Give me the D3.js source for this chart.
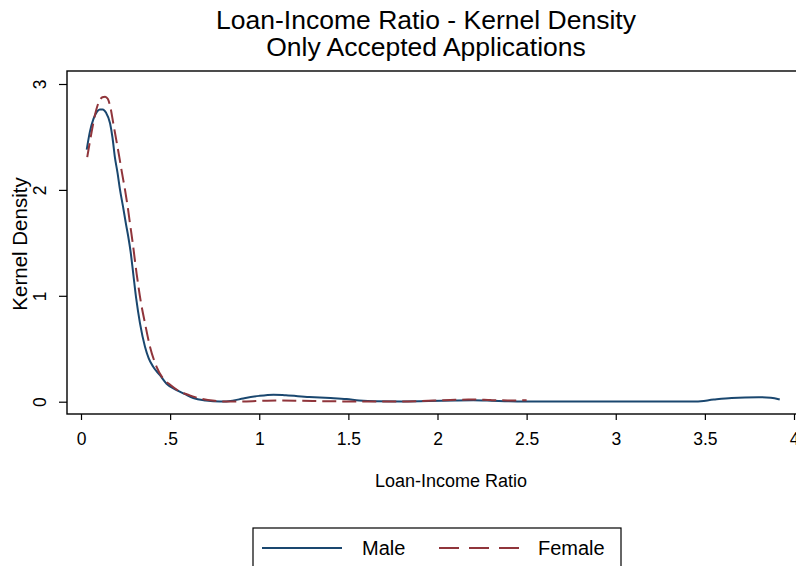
<!DOCTYPE html>
<html>
<head>
<meta charset="utf-8">
<script src="https://cdn.jsdelivr.net/npm/d3@7"></script>
<style>
  html, body { margin: 0; padding: 0; background: #fff; }
  svg { display: block; }
  text { font-family: "Liberation Sans", Arial, Helvetica, sans-serif; fill: #000; }
</style>
</head>
<body>
<svg id="chart" width="796" height="566"></svg>
<script>
// ---- Data ----
const titleLines = ["Loan-Income Ratio - Kernel Density", "Only Accepted Applications"];
const xTitle = "Loan-Income Ratio";
const yTitle = "Kernel Density";
const xTickValues = [0, 0.5, 1, 1.5, 2, 2.5, 3, 3.5, 4];
const xTickLabels = ["0", ".5", "1", "1.5", "2", "2.5", "3", "3.5", "4"];
const yTickValues = [0, 1, 2, 3];
const yTickLabels = ["0", "1", "2", "3"];
const seriesNames = ["Male", "Female"];

const maleX = [0.032,0.05,0.07,0.09,0.105,0.122,0.14,0.163,0.177,0.19,0.205,0.219,0.236,0.252,0.265,0.278,0.293,0.31,0.331,0.359,0.38,0.405,0.443,0.48,0.536,0.58,0.63,0.7,0.78,0.85,0.91,1.0,1.08,1.15,1.28,1.4,1.49,1.56,1.65,1.8,1.95,2.1,2.2,2.3,2.4,2.5,3.0,3.45,3.55,3.65,3.8,3.87,3.92];
const maleY = [2.38,2.55,2.67,2.74,2.76,2.76,2.73,2.63,2.49,2.31,2.16,2.0,1.84,1.68,1.56,1.42,1.21,0.97,0.74,0.52,0.41,0.33,0.25,0.17,0.11,0.075,0.035,0.012,0.002,0.01,0.03,0.055,0.066,0.06,0.045,0.035,0.025,0.012,0.004,0.003,0.006,0.012,0.014,0.01,0.004,0.002,0.001,0.002,0.02,0.035,0.043,0.038,0.02];

const femaleX = [0.035,0.06,0.08,0.10,0.12,0.135,0.15,0.165,0.181,0.198,0.215,0.23,0.247,0.262,0.275,0.29,0.312,0.335,0.359,0.387,0.424,0.46,0.5,0.55,0.61,0.68,0.75,0.82,0.9,1.0,1.1,1.2,1.3,1.4,1.5,1.6,1.7,1.8,1.9,2.0,2.1,2.2,2.3,2.4,2.5];
const femaleY = [2.31,2.55,2.72,2.83,2.875,2.88,2.86,2.78,2.63,2.47,2.31,2.16,2.0,1.84,1.68,1.50,1.21,0.95,0.74,0.52,0.33,0.22,0.16,0.10,0.06,0.025,0.008,0.002,0.002,0.008,0.012,0.01,0.007,0.004,0.002,0.001,0.001,0.002,0.006,0.012,0.018,0.02,0.015,0.012,0.014];

// ---- Layout ----
const svg = d3.select("#chart");
const frame = {left: 67, top: 71, right: 840, bottom: 414};
const x = d3.scaleLinear().domain([0, 4]).range([81, 794]);
const y = d3.scaleLinear().domain([0, 3]).range([401.7, 84]);
const colors = {Male: "#1a476f", Female: "#90353b"};
const dashes = {Male: null, Female: "14,6"};
const tickFont = 17.5, xTitleFont = 18, yTitleFont = 20.5, legendFont = 20, titleFont = 26.5;

// plot region frame
svg.append("rect")
  .attr("x", frame.left).attr("y", frame.top)
  .attr("width", frame.right - frame.left).attr("height", frame.bottom - frame.top)
  .attr("fill", "none").attr("stroke", "#000").attr("stroke-width", 1.4);

// x axis ticks
const xAxis = d3.axisBottom(x).tickValues(xTickValues)
  .tickFormat((d, i) => xTickLabels[i]).tickSize(6).tickSizeOuter(0);
const gx = svg.append("g").attr("transform", `translate(0,${frame.bottom})`).call(xAxis);
gx.select(".domain").remove();
gx.selectAll(".tick line").attr("stroke", "#000").attr("stroke-width", 1.2);
gx.selectAll(".tick text").attr("font-size", tickFont).attr("dy", null).attr("y", 31)
  .style("font-family", "Liberation Sans, Arial, sans-serif");

// y axis ticks (rotated labels)
const yAxis = d3.axisLeft(y).tickValues(yTickValues)
  .tickFormat((d, i) => yTickLabels[i]).tickSize(8).tickSizeOuter(0);
const gy = svg.append("g").attr("transform", `translate(${frame.left},0)`).call(yAxis);
gy.select(".domain").remove();
gy.selectAll(".tick line").attr("stroke", "#000").attr("stroke-width", 1.2);
gy.selectAll(".tick text").attr("font-size", tickFont)
  .attr("x", null).attr("dy", null)
  .attr("text-anchor", "middle")
  .attr("transform", "translate(-21,0) rotate(-90)")
  .style("font-family", "Liberation Sans, Arial, sans-serif");

// lines
const line = d3.line().x(d => x(d[0])).y(d => y(d[1])).curve(d3.curveMonotoneX);
const series = [
  {name: "Male", pts: maleX.map((v, i) => [v, maleY[i]])},
  {name: "Female", pts: femaleX.map((v, i) => [v, femaleY[i]])}
];
series.forEach(s => {
  svg.append("path").datum(s.pts)
    .attr("d", line)
    .attr("fill", "none")
    .attr("stroke", colors[s.name])
    .attr("stroke-width", 2)
    .attr("stroke-dasharray", dashes[s.name]);
});

// titles
svg.append("text").attr("x", 426).attr("y", 28.5).attr("text-anchor", "middle")
  .attr("font-size", titleFont).text(titleLines[0]);
svg.append("text").attr("x", 426).attr("y", 56).attr("text-anchor", "middle")
  .attr("font-size", titleFont).text(titleLines[1]);

svg.append("text").attr("x", 451).attr("y", 487).attr("text-anchor", "middle")
  .attr("font-size", xTitleFont).text(xTitle);

svg.append("text").attr("text-anchor", "middle").attr("font-size", yTitleFont)
  .attr("transform", "translate(27,244) rotate(-90)").text(yTitle);

// legend
const lg = svg.append("g");
lg.append("rect").attr("x", 253).attr("y", 528).attr("width", 368).attr("height", 50)
  .attr("fill", "#fff").attr("stroke", "#000").attr("stroke-width", 1.2);
const legendItems = [
  {name: seriesNames[0], x1: 262, x2: 342, tx: 362},
  {name: seriesNames[1], x1: 439, x2: 519, tx: 538}
];
legendItems.forEach(it => {
  lg.append("line").attr("x1", it.x1).attr("x2", it.x2).attr("y1", 548).attr("y2", 548)
    .attr("stroke", colors[it.name]).attr("stroke-width", 2)
    .attr("stroke-dasharray", it.name === "Female" ? "20,10" : null);
  lg.append("text").attr("x", it.tx).attr("y", 555).attr("font-size", legendFont).text(it.name);
});
</script>
</body>
</html>
